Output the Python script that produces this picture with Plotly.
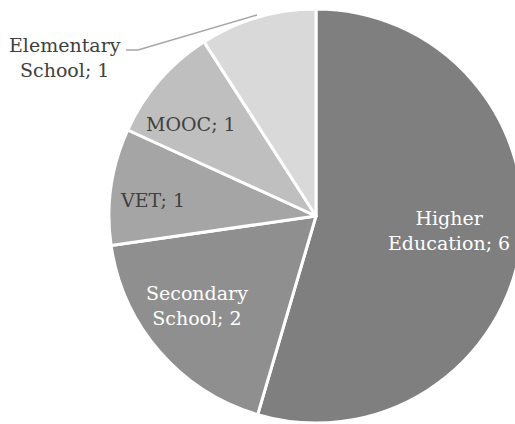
import plotly.graph_objects as go

categories = ["Higher Education", "Secondary School", "VET", "MOOC", "Elementary School"]
display_labels = ["Higher<br>Education", "Secondary<br>School", "VET", "MOOC", "Elementary<br>School"]
values = [6, 2, 1, 1, 1]
colors = ["#7f7f7f", "#8f8f8f", "#a5a5a5", "#bfbfbf", "#d9d9d9"]
text_colors = ["white", "white", "#404040", "#404040", "#404040"]
# label centre positions in pixels (x, y from top)
label_pos = [(449, 231), (197, 305), (152, 200), (191, 124), (65, 57)]

W, H = 540, 424
cx, cy, r = 316, 216, 207
FONT = "DejaVu Serif, Liberation Serif, serif"

fig = go.Figure(go.Pie(
    labels=categories,
    values=values,
    textinfo="none",
    marker=dict(colors=colors, line=dict(color="white", width=3)),
    sort=False,
    direction="clockwise",
    rotation=0,
    hoverinfo="label+value",
    domain=dict(x=[(cx - r) / W, (cx + r) / W], y=[(H - cy - r) / H, (H - cy + r) / H]),
    showlegend=False,
))

for lab, val, col, (px, py) in zip(display_labels, values, text_colors, label_pos):
    fig.add_annotation(
        x=px / W, y=1 - py / H, xref="paper", yref="paper",
        text=f"{lab}; {val}",
        showarrow=False, xanchor="center", yanchor="middle", align="center",
        font=dict(family=FONT, size=19, color=col),
    )

fig.add_shape(type="path", xref="paper", yref="paper",
              path=f"M {126/W},{1-50/H} L {138/W},{1-50/H} L {257/W},{1-15/H}",
              line=dict(color="#a6a6a6", width=1.5))

fig.update_layout(
    width=W, height=H,
    margin=dict(l=0, r=0, t=0, b=0),
    paper_bgcolor="white", plot_bgcolor="white",
)

fig.write_html("out.html", config={"displayModeBar": False},
               post_script="document.body.style.margin='0';document.body.style.overflow='hidden';")
